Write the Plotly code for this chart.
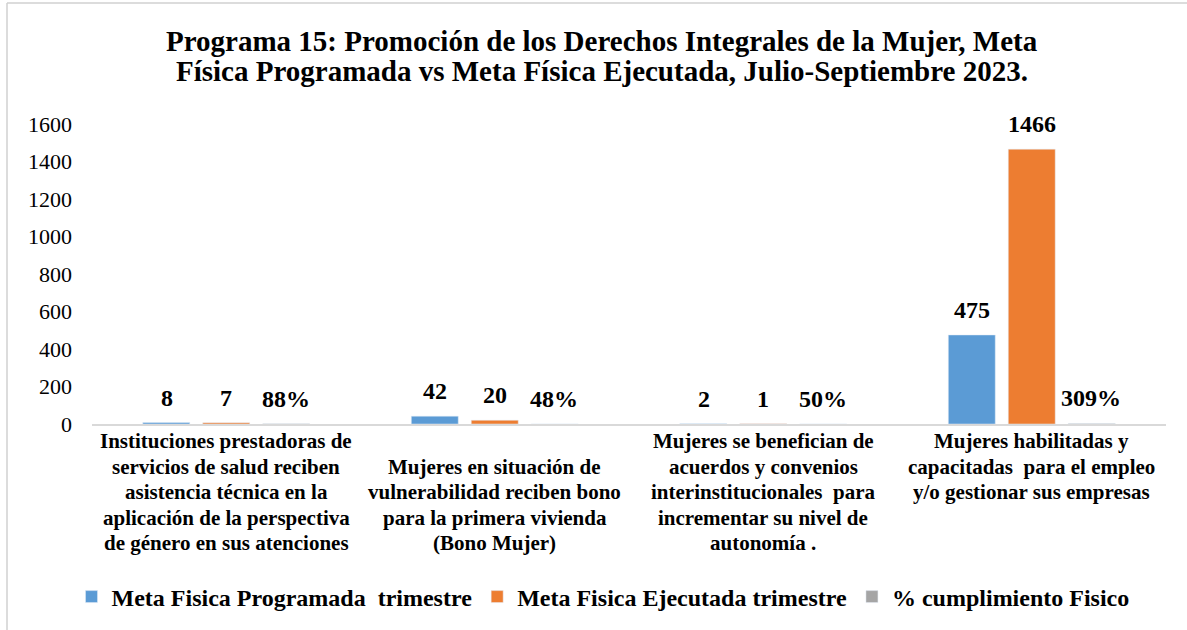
import plotly.graph_objects as go

categories = [
    "Instituciones prestadoras de\nservicios de salud reciben\nasistencia técnica en la\naplicación de la perspectiva\nde género en sus atenciones",
    "\nMujeres en situación de\nvulnerabilidad reciben bono\npara la primera vivienda\n(Bono Mujer)",
    "Mujeres se benefician de\nacuerdos y convenios\ninterinstitucionales  para\nincrementar su nivel de\nautonomía .",
    "Mujeres habilitadas y\ncapacitadas  para el empleo\ny/o gestionar sus empresas",
]
programada = [8, 42, 2, 475]
ejecutada = [7, 20, 1, 1466]
cumplimiento = [0.88, 0.48, 0.50, 3.09]
cumplimiento_labels = ["88%", "48%", "50%", "309%"]

series_names = ["Meta Fisica Programada  trimestre", "Meta Fisica Ejecutada trimestre", "% cumplimiento Fisico"]
colors = ["#5b9bd5", "#ed7d31", "#a5a5a5"]
title_lines = [
    "Programa 15: Promoción de los Derechos Integrales de la Mujer, Meta",
    "Física Programada vs Meta Física Ejecutada, Julio-Septiembre 2023.",
]

SERIF = "Liberation Serif"

W, H = 1187, 630
L, R, T, B = 92, 21, 124, 206
pw, ph = W - L - R, H - T - B


def px_to_paper_x(px):
    return (px - L) / pw


def px_to_paper_y(py):
    return (H - B - py) / ph


cat_ids = list(range(len(categories)))

fig = go.Figure()
values_all = [programada, ejecutada, cumplimiento]
labels_all = [[str(v) for v in programada], [str(v) for v in ejecutada], cumplimiento_labels]
for name, vals, col in zip(series_names, values_all, colors):
    fig.add_trace(go.Bar(x=cat_ids, y=vals, name=name, marker_color=col,
                         hoverinfo="skip"))

annotations = []
# data labels above the bars (offset per series within the group)
slot_px = 59.5
for j, (vals, labs) in enumerate(zip(values_all, labels_all)):
    for i, (v, lab) in enumerate(zip(vals, labs)):
        annotations.append(dict(
            x=i, y=v, xref="x", yref="y", text=f"<b>{lab}</b>", showarrow=False,
            xshift=(j - 1) * slot_px, yshift=25, yanchor="middle", xanchor="center",
            font=dict(family=SERIF, size=24, color="#000000"),
        ))

# category labels, one annotation per line
line_h = 25.5
first_line_px = 441
for i, cat in enumerate(categories):
    for k, line in enumerate(cat.split("\n")):
        if not line.strip():
            continue
        annotations.append(dict(
            x=i, xref="x", yref="paper", y=px_to_paper_y(first_line_px + k * line_h),
            text=f"<b>{line}</b>", showarrow=False, xanchor="center", yanchor="middle",
            font=dict(family=SERIF, size=21, color="#000000"),
        ))

# title, two lines
for k, line in enumerate(title_lines):
    annotations.append(dict(
        x=px_to_paper_x(602), xref="paper", yref="paper", y=px_to_paper_y(41 + k * 30),
        text=f"<b>{line}</b>", showarrow=False, xanchor="center", yanchor="middle",
        font=dict(family=SERIF, size=29, color="#000000"),
    ))

fig.update_layout(
    width=W, height=H,
    margin=dict(l=L, r=R, t=T, b=B),
    paper_bgcolor="white", plot_bgcolor="white",
    barmode="group", bargap=0.33, bargroupgap=0.217,
    font=dict(family=SERIF, color="#000000"),
    showlegend=True,
    legend=dict(
        orientation="h", xref="container", x=603 / W, xanchor="center",
        yref="container", y=1 - 597 / H, yanchor="middle",
        font=dict(family=SERIF, size=24, color="#000000", weight="bold"),
        itemwidth=30, traceorder="normal",
    ),
    annotations=annotations,
    shapes=[
        dict(type="line", xref="paper", yref="paper",
             x0=px_to_paper_x(7), x1=px_to_paper_x(7), y0=px_to_paper_y(H + 5), y1=px_to_paper_y(3),
             line=dict(color="#d0d0d0", width=1.5)),
        dict(type="line", xref="paper", yref="paper",
             x0=px_to_paper_x(7), x1=px_to_paper_x(W + 5), y0=px_to_paper_y(3), y1=px_to_paper_y(3),
             line=dict(color="#d0d0d0", width=1.5)),
    ],
)
fig.update_xaxes(
    range=[-0.5, len(categories) - 0.5],
    showline=True, linecolor="#d9d9d9", linewidth=1.5, showgrid=False, ticks="",
    showticklabels=False, zeroline=False,
)
fig.update_yaxes(
    range=[0, 1600], dtick=200, showgrid=False, zeroline=False, showline=False, ticks="",
    tickfont=dict(family=SERIF, size=22, color="#000000"), ticklabelstandoff=19,
)

fig.write_html("out.html", config={"displayModeBar": False},
               post_script="document.body.style.margin='0';")
